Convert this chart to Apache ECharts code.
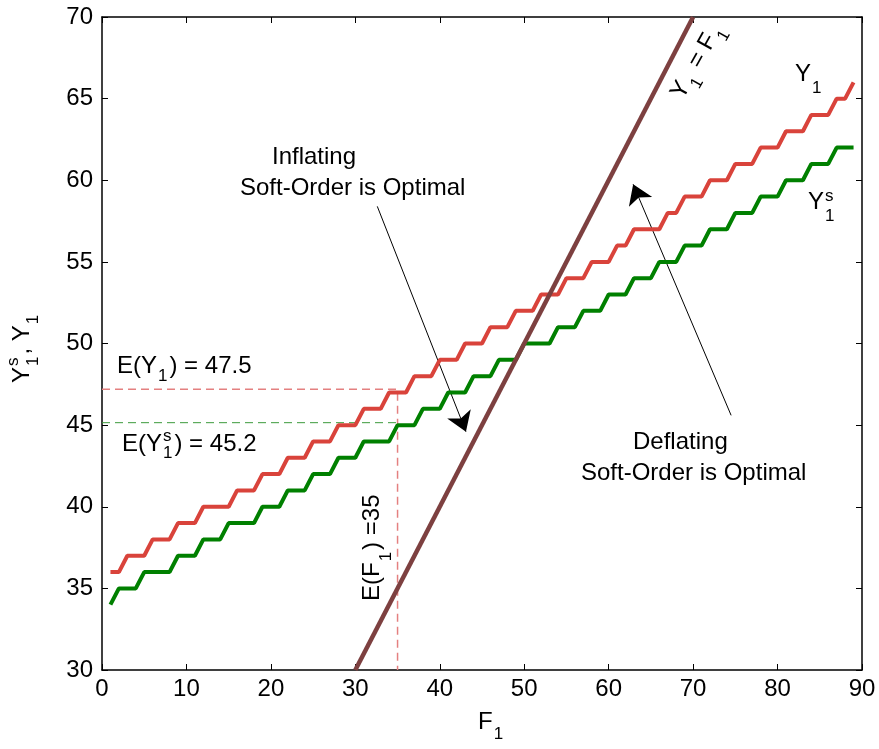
<!DOCTYPE html>
<html>
<head>
<meta charset="utf-8">
<script src="https://cdn.jsdelivr.net/npm/echarts@6/dist/echarts.min.js"></script>
<style>
  html, body { margin: 0; padding: 0; background: #fff; }
  #chart { width: 879px; height: 749px; }
</style>
</head>
<body>
<div id="chart"></div>
<script>
// F1 values (x)
var f1 = [1, 2, 3, 4, 5, 6, 7, 8, 9, 10, 11, 12, 13, 14, 15, 16, 17, 18, 19, 20,
  21, 22, 23, 24, 25, 26, 27, 28, 29, 30, 31, 32, 33, 34, 35, 36, 37, 38, 39, 40,
  41, 42, 43, 44, 45, 46, 47, 48, 49, 50, 51, 52, 53, 54, 55, 56, 57, 58, 59, 60,
  61, 62, 63, 64, 65, 66, 67, 68, 69, 70, 71, 72, 73, 74, 75, 76, 77, 78, 79, 80,
  81, 82, 83, 84, 85, 86, 87, 88, 89];
// Y1 (red)
var y1 = [36, 36, 37, 37, 37, 38, 38, 38, 39, 39, 39, 40, 40, 40, 40, 41, 41, 41, 42, 42,
  42, 43, 43, 43, 44, 44, 44, 45, 45, 45, 46, 46, 46, 47, 47, 47, 48, 48, 48, 49,
  49, 49, 50, 50, 50, 51, 51, 51, 52, 52, 52, 53, 53, 53, 54, 54, 54, 55, 55, 55,
  56, 56, 57, 57, 57, 57, 58, 58, 59, 59, 59, 60, 60, 60, 61, 61, 61, 62, 62, 62,
  63, 63, 63, 64, 64, 64, 65, 65, 66];
// Ys1 (green)
var ys1 = [34, 35, 35, 35, 36, 36, 36, 36, 37, 37, 37, 38, 38, 38, 39, 39, 39, 39, 40, 40,
  40, 41, 41, 41, 42, 42, 42, 43, 43, 43, 44, 44, 44, 44, 45, 45, 45, 46, 46, 46,
  47, 47, 47, 48, 48, 48, 49, 49, 49, 50, 50, 50, 50, 51, 51, 51, 52, 52, 52, 53,
  53, 53, 54, 54, 54, 55, 55, 55, 56, 56, 56, 57, 57, 57, 58, 58, 58, 59, 59, 59,
  60, 60, 60, 61, 61, 61, 62, 62, 62];
// Y1 = F1 line
var diagonal = [[30, 30], [70, 70]];
// expectation guides
var eF1 = 35;
var eY1Line = 47.2;
var eYs1Line = 45.15;
// annotation arrows [from, to]
var inflArrow = [[32.6, 58.4], [43.1, 44.6]];
var deflArrow = [[74.5, 45.6], [62.9, 59.75]];

var FONT = '"Liberation Sans", Arial, Helvetica, sans-serif';
var ctx = document.createElement('canvas').getContext('2d');
function textW(s, size) {
  ctx.font = size + 'px ' + FONT;
  return ctx.measureText(s).width;
}
function txt(s, x, y, size) {
  return {
    type: 'text', x: x, y: y, silent: true,
    style: { text: s, fontSize: size, fontFamily: FONT, fill: '#000',
      align: 'left', verticalAlign: 'middle' }
  };
}
// text with sub/superscripts; x = left, y = middle of the main text
function mathLabel(x, y, parts, o) {
  o = o || {};
  var size = o.size || 24, small = o.small || 17;
  var subDy = o.subDy == null ? 10 : o.subDy;
  var supDy = o.supDy == null ? -9 : o.supDy;
  var kids = [], cx = 0;
  parts.forEach(function (p) {
    if (typeof p === 'string') {
      kids.push(txt(p, cx, 0, size));
      cx += textW(p, size);
    } else {
      var w = 0;
      if (p.sup) { kids.push(txt(p.sup, cx + 1, supDy, small)); w = Math.max(w, textW(p.sup, small)); }
      if (p.sub) { kids.push(txt(p.sub, cx + 1, subDy, small)); w = Math.max(w, textW(p.sub, small)); }
      cx += w + 3;
    }
  });
  return { type: 'group', x: x, y: y, rotation: o.rot || 0, silent: true, children: kids };
}

function axisX(pos, labels) {
  return {
    type: 'value', position: pos, min: 0, max: 90, interval: 10,
    axisLine: { show: true, onZero: false, lineStyle: { color: '#000', width: 1.5 } },
    axisTick: { show: true, inside: true, length: 6, lineStyle: { color: '#000', width: 1 } },
    axisLabel: { show: labels, color: '#000', fontSize: 24, fontFamily: FONT, margin: 7,
      showMinLabel: true, showMaxLabel: true },
    splitLine: { show: false }
  };
}
function axisY(pos, labels) {
  return {
    type: 'value', position: pos, min: 30, max: 70, interval: 5,
    axisLine: { show: true, onZero: false, lineStyle: { color: '#000', width: 1.5 } },
    axisTick: { show: true, inside: true, length: 6, lineStyle: { color: '#000', width: 1 } },
    axisLabel: { show: labels, color: '#000', fontSize: 24, fontFamily: FONT, margin: 9,
      showMinLabel: true, showMaxLabel: true },
    splitLine: { show: false }
  };
}

function pairs(xs, ys) {
  return xs.map(function (x, i) { return [x, ys[i]]; });
}

var chart = echarts.init(document.getElementById('chart'));
chart.setOption({
  animation: false,
  backgroundColor: '#fff',
  grid: { left: 102, right: 17, top: 17, bottom: 79 },
  xAxis: [axisX('bottom', true), axisX('top', false)],
  yAxis: [axisY('left', true), axisY('right', false)],
  series: [
    {
      type: 'line', name: 'E(Ys1)', symbol: 'none',
      data: [[0, eYs1Line], [eF1, eYs1Line]],
      lineStyle: { color: '#3c9a3c', width: 1, type: [8, 5] }
    },
    {
      type: 'line', name: 'E(Y1)', symbol: 'none',
      data: [[0, eY1Line], [eF1, eY1Line], [eF1, 30]],
      lineStyle: { color: '#e48080', width: 1.5, type: [8, 5] }
    },
    {
      type: 'line', name: 'Y1', symbol: 'none',
      data: pairs(f1, y1),
      lineStyle: { color: '#d9433b', width: 4 }
    },
    {
      type: 'line', name: 'Ys1', symbol: 'none',
      data: pairs(f1, ys1),
      lineStyle: { color: '#008000', width: 4 }
    },
    {
      type: 'line', name: 'Y1 = F1', symbol: 'none', clip: true,
      data: diagonal,
      lineStyle: { color: '#7d4040', width: 4.5 }
    },
    {
      type: 'lines', coordinateSystem: 'cartesian2d', silent: true,
      symbol: ['none', 'arrow'], symbolSize: 19,
      lineStyle: { color: '#000', width: 1, opacity: 1 },
      data: [{ coords: inflArrow }, { coords: deflArrow }]
    }
  ],
  graphic: [
    mathLabel(272, 157, ['Inflating']),
    mathLabel(240, 188, ['Soft-Order is Optimal']),
    mathLabel(633, 442, ['Deflating']),
    mathLabel(581, 473, ['Soft-Order is Optimal']),
    mathLabel(117, 366.5, ['E(Y', { sub: '1' }, ') = 47.5'], { subDy: 9.5 }),
    mathLabel(122, 444, ['E(Y', { sup: 's', sub: '1' }, ') = 45.2'], { subDy: 9.5, supDy: -8 }),
    mathLabel(795, 74, ['Y', { sub: '1' }], { subDy: 14 }),
    mathLabel(808, 202.5, ['Y', { sup: 's', sub: '1' }], { subDy: 14, supDy: -6 }),
    mathLabel(478, 722.5, ['F', { sub: '1' }], { subDy: 12 }),
    mathLabel(372, 601, ['E(F', { sub: '1' }, ') =35'], { rot: Math.PI / 2, subDy: 14 }),
    mathLabel(677, 97, ['Y', { sub: '1' }, ' = F', { sub: '1' }], { rot: 1.06, subDy: 11 }),
    mathLabel(22, 383, ['Y', { sup: 's', sub: '1' }, ', Y', { sub: '1' }], { rot: Math.PI / 2, subDy: 11, supDy: -9 })
  ]
});
</script>
</body>
</html>
